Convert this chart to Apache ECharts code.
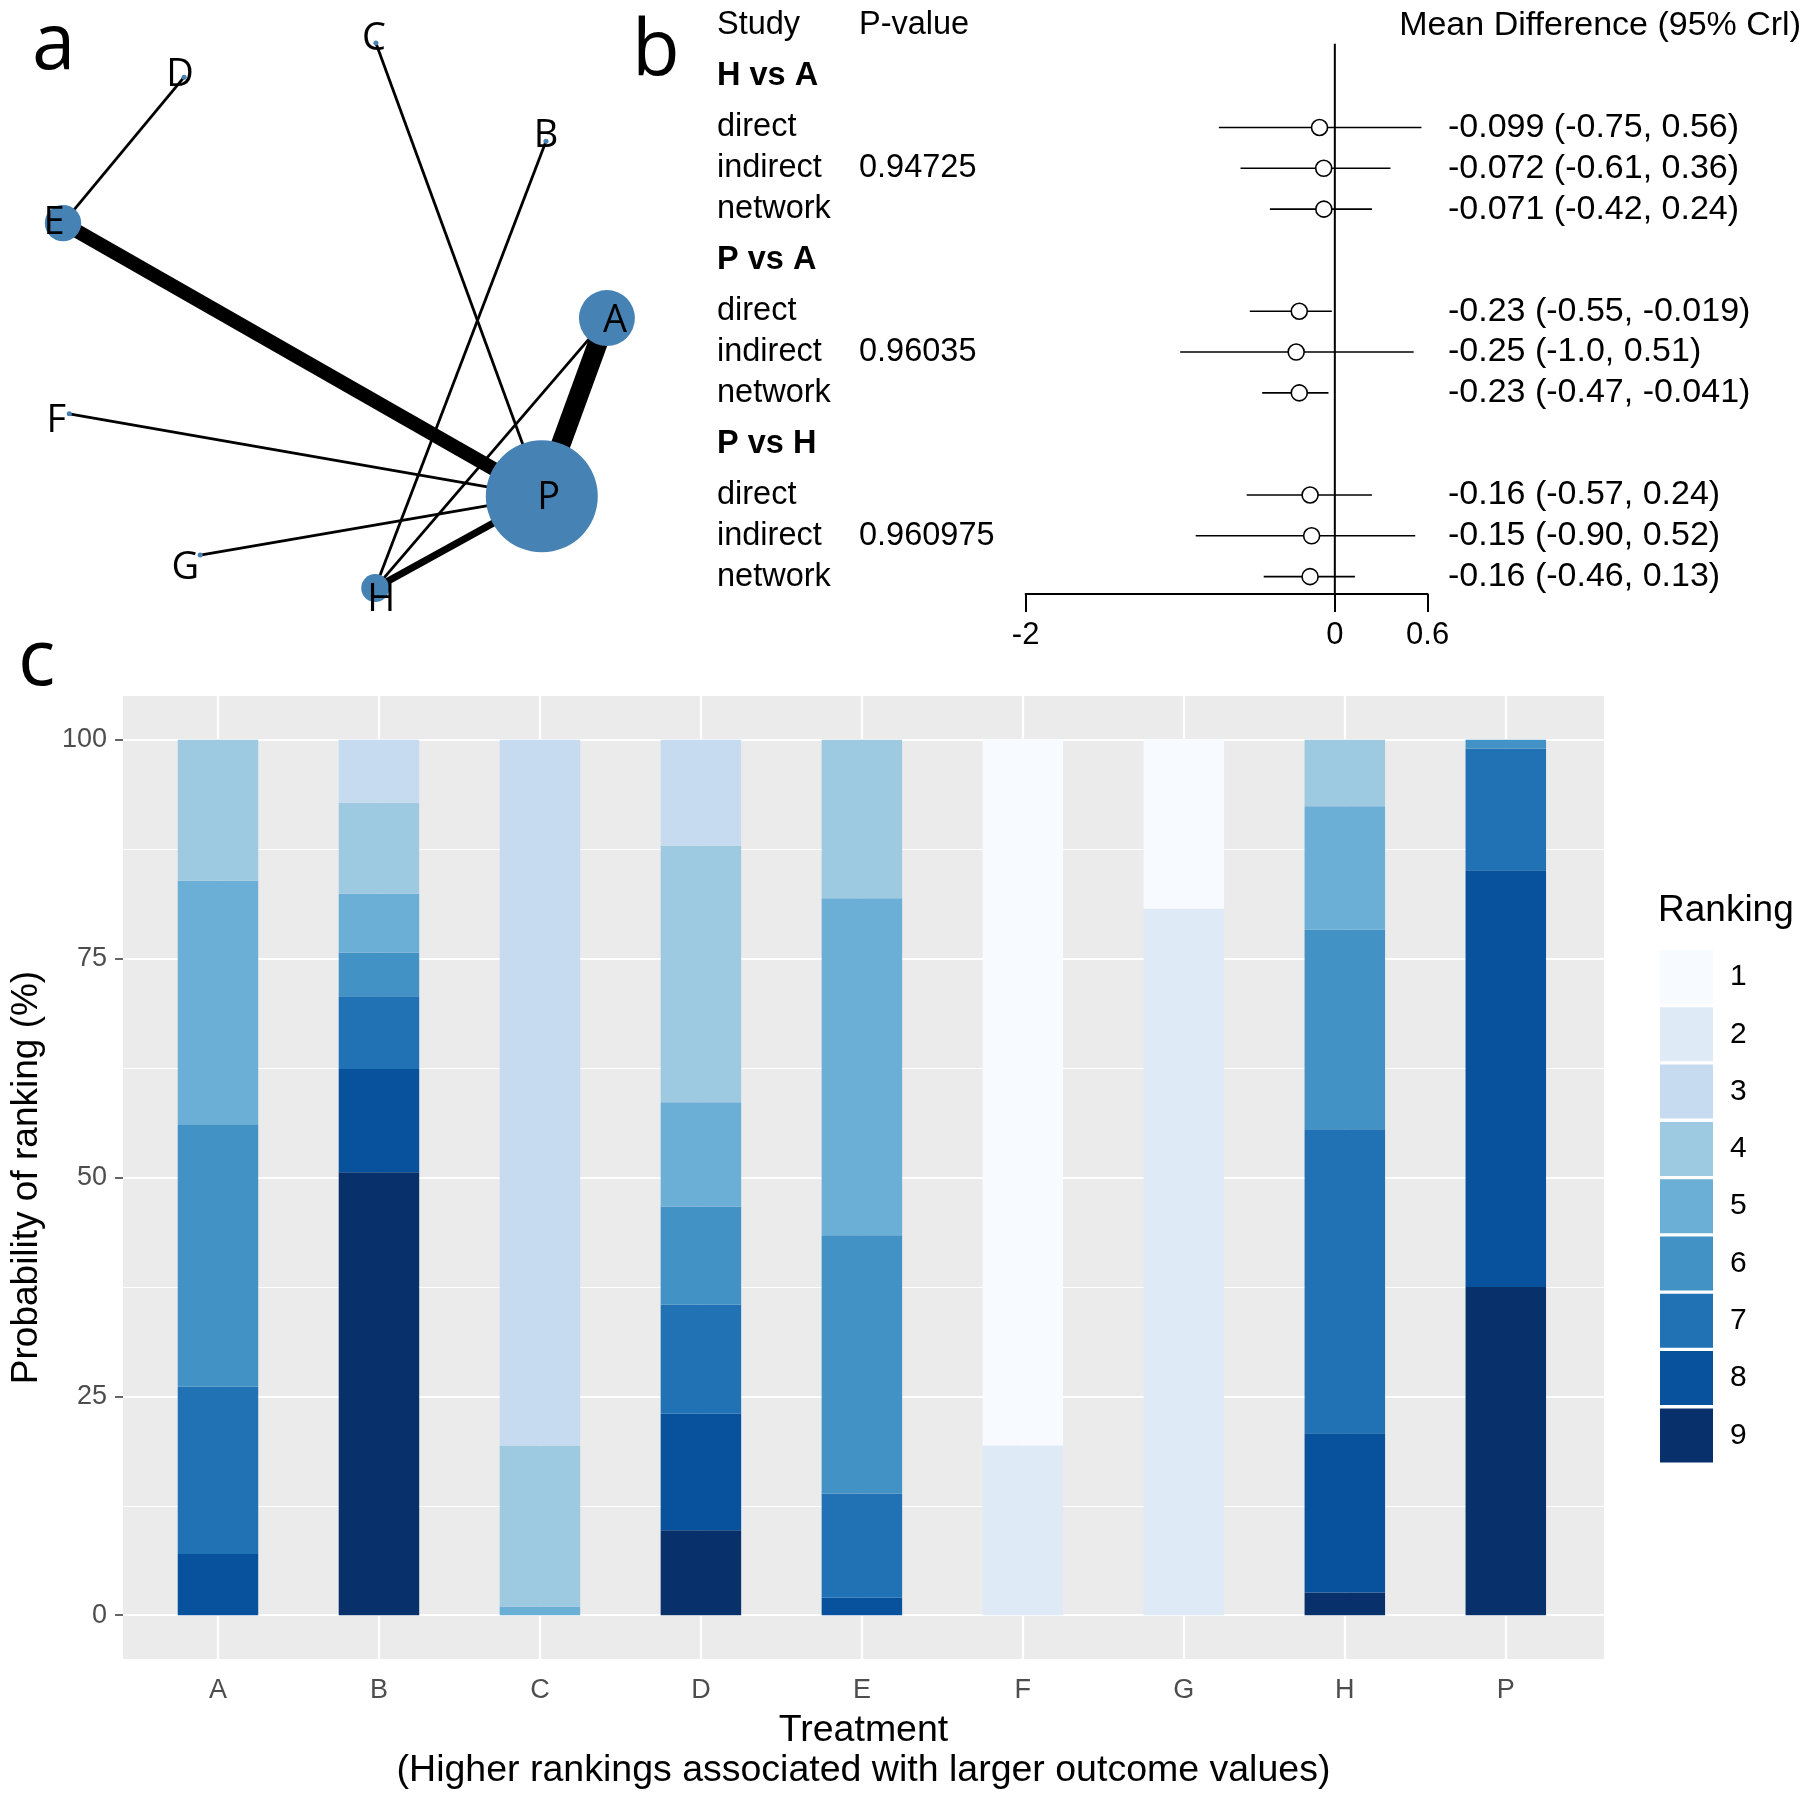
<!DOCTYPE html>
<html>
<head>
<meta charset="utf-8">
<title>Network, node-split and ranking plots</title>
<script src="https://cdn.jsdelivr.net/npm/echarts@6/dist/echarts.min.js"></script>
<style>
  html, body { margin: 0; padding: 0; background: #fff; }
  #main { width: 1809px; height: 1800px; }
</style>
</head>
<body>
<div id="main"></div>
<script>
// ---------- panel a : network ----------
var nodeNames  = ['A', 'B', 'C', 'D', 'E', 'F', 'G', 'H', 'P'];
var nodeX      = [86.7, 78.0, 53.7, 26.3, 9.0, 9.9, 28.6, 53.6, 77.4];
var nodeY      = [51.8, 78.6, 93.5, 88.3, 66.2, 37.3, 15.9, 10.9, 24.8];
var nodeWeight = [20, 1.8, 1.8, 1.8, 13, 1.8, 1.8, 10, 40];
var edgeFrom   = ['D', 'E', 'C', 'B', 'A', 'A', 'F', 'G', 'H'];
var edgeTo     = ['E', 'P', 'P', 'H', 'P', 'H', 'P', 'P', 'P'];
var edgeWeight = [1, 5, 1, 1, 7, 1, 1, 1, 2.5];

// ---------- panel b : node splitting ----------
var groupNames = ['H vs A', 'P vs A', 'P vs H'];
var pValues    = ['0.94725', '0.96035', '0.960975'];
var evidence   = ['direct', 'indirect', 'network'];
var mdEst  = [-0.099, -0.072, -0.071, -0.23, -0.25, -0.23, -0.16, -0.15, -0.16];
var mdLow  = [-0.75, -0.61, -0.42, -0.55, -1.0, -0.47, -0.57, -0.90, -0.46];
var mdHigh = [0.56, 0.36, 0.24, -0.019, 0.51, -0.041, 0.24, 0.52, 0.13];
var mdText = ['-0.099 (-0.75, 0.56)', '-0.072 (-0.61, 0.36)', '-0.071 (-0.42, 0.24)',
              '-0.23 (-0.55, -0.019)', '-0.25 (-1.0, 0.51)', '-0.23 (-0.47, -0.041)',
              '-0.16 (-0.57, 0.24)', '-0.15 (-0.90, 0.52)', '-0.16 (-0.46, 0.13)'];
var forestTicks = [-2, 0, 0.6];

// ---------- panel c : ranking probabilities (%) ----------
var treatments = ['A', 'B', 'C', 'D', 'E', 'F', 'G', 'H', 'P'];
var rank1 = [0, 0, 0, 0, 0, 80.6, 19.3, 0, 0];
var rank2 = [0, 0, 0, 0, 0, 19.4, 80.7, 0, 0];
var rank3 = [0, 7.2, 80.6, 12.1, 0, 0, 0, 0, 0];
var rank4 = [16.1, 10.4, 18.4, 29.3, 18.1, 0, 0, 7.6, 0];
var rank5 = [27.9, 6.7, 1.0, 11.9, 38.5, 0, 0, 14.1, 0];
var rank6 = [29.9, 5.0, 0, 11.2, 29.5, 0, 0, 22.8, 1.0];
var rank7 = [19.1, 8.3, 0, 12.5, 11.9, 0, 0, 34.7, 13.9];
var rank8 = [7.0, 11.8, 0, 13.3, 2.0, 0, 0, 18.2, 47.6];
var rank9 = [0, 50.6, 0, 9.7, 0, 0, 0, 2.6, 37.5];
var yTicks = [0, 25, 50, 75, 100];
var yMinorTicks = [12.5, 37.5, 62.5, 87.5];

var rankData = [rank1, rank2, rank3, rank4, rank5, rank6, rank7, rank8, rank9];
var blues = ['#F7FBFF', '#DEEBF7', '#C6DBEF', '#9ECAE1', '#6BAED6',
             '#4292C6', '#2171B5', '#08519C', '#08306B'];

var sans = '"Liberation Sans", Arial, sans-serif';
var open = '"Open Sans", sans-serif';

// node label nudges (px)
var labelNudge = {A: [8, 3], B: [0, -5], C: [-2, -4], D: [-4, -2], E: [-9, 0],
                  F: [-13, 7], G: [-15, 13], H: [6, 12], P: [7, 2]};

function nodeIdx(n) { return nodeNames.indexOf(n); }

var edgeData = edgeFrom.map(function (f, i) {
    var a = nodeIdx(f), b = nodeIdx(edgeTo[i]);
    return {
        coords: [[nodeX[a], nodeY[a]], [nodeX[b], nodeY[b]]],
        lineStyle: { width: edgeWeight[i] * 2.8 }
    };
});

var nodeData = nodeNames.map(function (n, i) {
    return {
        name: n,
        value: [nodeX[i], nodeY[i]],
        symbolSize: nodeWeight[i] * 2.8,
        label: { offset: labelNudge[n] }
    };
});

// forest rows: header gap 5 slots, row gap 4 slots
var rowSlot = [];
var tableRows = [{ slot: 0, study: 'Study', bold: false, p: 'P-value', ci: '' }];
groupNames.forEach(function (g, gi) {
    var head = 5 + gi * 18;
    tableRows.push({ slot: head, study: g, bold: true, p: '', ci: '' });
    evidence.forEach(function (e, ei) {
        var s = head + 5 + ei * 4;
        var k = gi * 3 + ei;
        rowSlot.push(s);
        tableRows.push({ slot: s, study: e, bold: false, p: ei === 1 ? pValues[gi] : '', ci: mdText[k] });
    });
});
var slotMax = 55.7;
var zeroTop = 1.8;

var colStudy = 717, colP = 859, colCI = 1448, colRight = 1801;

var rankSeries = [];
for (var r = 9; r >= 1; r--) {
    var s = {
        type: 'bar',
        name: String(r),
        xAxisIndex: 2,
        yAxisIndex: 2,
        stack: 'rank',
        barWidth: '50%',
        z: 2,
        itemStyle: { color: blues[r - 1] },
        // value first so that the stacked dimension is the probability
        encode: { x: 1, y: 0 },
        data: rankData[r - 1].map(function (v, i) { return [v, i + 1]; })
    };
    if (r === 9) {
        var gl = [];
        yTicks.forEach(function (v) { gl.push({ yAxis: v, lineStyle: { width: 2.2 } }); });
        yMinorTicks.forEach(function (v) { gl.push({ yAxis: v, lineStyle: { width: 1.1 } }); });
        treatments.forEach(function (t, i) { gl.push({ xAxis: i + 1, lineStyle: { width: 2.2 } }); });
        s.markLine = {
            silent: true, z: 1, symbol: ['none', 'none'], label: { show: false },
            lineStyle: { color: '#ffffff', type: 'solid' }, animation: false, data: gl
        };
    }
    rankSeries.push(s);
}

var option = {
    animation: false,
    backgroundColor: '#ffffff',
    grid: [
        { left: 0, top: 0, width: 700, height: 660 },
        { left: 1025.6, top: 25.4, width: 402, height: 568.6 },
        { left: 121, top: 696, width: 1483, height: 963, show: true,
          backgroundColor: '#EBEBEB', borderWidth: 0 }
    ],
    xAxis: [
        { gridIndex: 0, type: 'value', min: 0, max: 100, show: false },
        { gridIndex: 1, type: 'value', min: -2, max: 0.6, position: 'bottom',
          axisLine: { onZero: false, lineStyle: { color: '#000', width: 2 } },
          axisTick: { customValues: forestTicks, length: 18, lineStyle: { color: '#000', width: 2 } },
          axisLabel: { customValues: forestTicks, margin: 26, color: '#000', fontSize: 31,
                       fontFamily: sans, formatter: function (v) { return String(v); } },
          splitLine: { show: false } },
        { gridIndex: 2, type: 'value', min: 0.41, max: 9.61,
          axisLine: { show: false },
          axisTick: { customValues: [1, 2, 3, 4, 5, 6, 7, 8, 9], length: 8,
                      lineStyle: { color: '#333', width: 1.5 } },
          axisLabel: { customValues: [1, 2, 3, 4, 5, 6, 7, 8, 9], margin: 18, color: '#4D4D4D',
                       fontSize: 27, fontFamily: sans,
                       formatter: function (v) { return treatments[Math.round(v) - 1]; } },
          splitLine: { show: false },
          name: 'Treatment\n(Higher rankings associated with larger outcome values)',
          nameLocation: 'middle', nameGap: 52,
          nameTextStyle: { color: '#000', fontSize: 37.5, lineHeight: 40, fontFamily: sans } }
    ],
    yAxis: [
        { gridIndex: 0, type: 'value', min: 0, max: 100, show: false },
        { gridIndex: 1, type: 'value', min: 0, max: slotMax, inverse: true, show: false },
        { gridIndex: 2, type: 'value', min: -5, max: 105,
          axisLine: { show: false },
          axisTick: { customValues: yTicks, length: 8, lineStyle: { color: '#333', width: 1.5 } },
          axisLabel: { customValues: yTicks, margin: 16, color: '#4D4D4D', fontSize: 27, fontFamily: sans },
          splitLine: { show: false },
          name: 'Probability of ranking (%)', nameLocation: 'middle', nameGap: 78,
          nameTextStyle: { color: '#000', fontSize: 37, fontFamily: sans } }
    ],
    legend: {
        data: ['1', '2', '3', '4', '5', '6', '7', '8', '9'],
        orient: 'vertical', left: 1655, top: 945,
        itemWidth: 53, itemHeight: 54, itemGap: 3.3, icon: 'rect',
        selectedMode: false,
        textStyle: { fontSize: 30, color: '#000', fontFamily: sans, padding: [0, 0, 0, 12] }
    },
    graphic: [
        { type: 'text', left: 32, top: 8, style: { text: 'a', font: '78px ' + open, fill: '#000' } },
        { type: 'text', left: 632, top: 14, style: { text: 'b', font: '78px ' + open, fill: '#000' } },
        { type: 'text', left: 18, top: 624, style: { text: 'c', font: '78px ' + open, fill: '#000' } },
        { type: 'text', left: 1658, top: 892, style: { text: 'Ranking', font: '37px ' + sans, fill: '#000' } }
    ],
    series: [
        // network edges and nodes
        { type: 'lines', coordinateSystem: 'cartesian2d', xAxisIndex: 0, yAxisIndex: 0,
          polyline: false, silent: true, z: 2,
          lineStyle: { color: '#000', opacity: 1 }, data: edgeData },
        { type: 'scatter', xAxisIndex: 0, yAxisIndex: 0, z: 3, silent: true,
          itemStyle: { color: '#4682B4', opacity: 1 },
          label: { show: true, position: 'inside', formatter: '{b}', color: '#000',
                   fontSize: 38, fontFamily: open },
          data: nodeData },
        // forest: zero line
        { type: 'line', xAxisIndex: 1, yAxisIndex: 1, symbol: 'none', silent: true, z: 2,
          lineStyle: { color: '#000', width: 2 },
          data: [[0, zeroTop], [0, slotMax]] },
        // forest: credible intervals
        { type: 'custom', xAxisIndex: 1, yAxisIndex: 1, silent: true, z: 3,
          data: mdLow.map(function (lo, i) { return [lo, mdHigh[i], rowSlot[i]]; }),
          encode: { x: [0, 1], y: 2 },
          renderItem: function (params, api) {
              var a = api.coord([api.value(0), api.value(2)]);
              var b = api.coord([api.value(1), api.value(2)]);
              return { type: 'line', shape: { x1: a[0], y1: a[1], x2: b[0], y2: b[1] },
                       style: { stroke: '#000', lineWidth: 1.6 } };
          } },
        // forest: point estimates
        { type: 'scatter', xAxisIndex: 1, yAxisIndex: 1, z: 4, silent: true,
          symbol: 'circle', symbolSize: 16,
          itemStyle: { color: '#fff', borderColor: '#000', borderWidth: 1.6, opacity: 1 },
          data: mdEst.map(function (v, i) { return [v, rowSlot[i]]; }) },
        // forest: table text
        { type: 'custom', xAxisIndex: 1, yAxisIndex: 1, silent: true, z: 5,
          data: tableRows.map(function (t) { return [0, t.slot]; }),
          encode: { x: 0, y: 1 },
          renderItem: function (params, api) {
              var row = tableRows[params.dataIndex];
              var y = api.coord([0, api.value(1)])[1];
              var kids = [
                  { type: 'text', x: colStudy, y: y,
                    style: { text: row.study, fontSize: 32.5, fontFamily: sans,
                             fontWeight: row.bold ? 'bold' : 'normal', fill: '#000',
                             align: 'left', verticalAlign: 'middle' } }
              ];
              if (row.p) {
                  kids.push({ type: 'text', x: colP, y: y,
                      style: { text: row.p, fontSize: 32.5, fontFamily: sans, fill: '#000',
                               align: 'left', verticalAlign: 'middle' } });
              }
              if (row.ci) {
                  kids.push({ type: 'text', x: colCI, y: y,
                      style: { text: row.ci, fontSize: 34, fontFamily: sans, fill: '#000',
                               align: 'left', verticalAlign: 'middle' } });
              }
              if (params.dataIndex === 0) {
                  kids.push({ type: 'text', x: colRight, y: y,
                      style: { text: 'Mean Difference (95% Crl)', fontSize: 34, fontFamily: sans,
                               fill: '#000', align: 'right', verticalAlign: 'middle' } });
              }
              return { type: 'group', children: kids };
          } }
    ].concat(rankSeries)
};

var chart = echarts.init(document.getElementById('main'), null, { width: 1809, height: 1800 });
chart.setOption(option);
</script>
</body>
</html>
